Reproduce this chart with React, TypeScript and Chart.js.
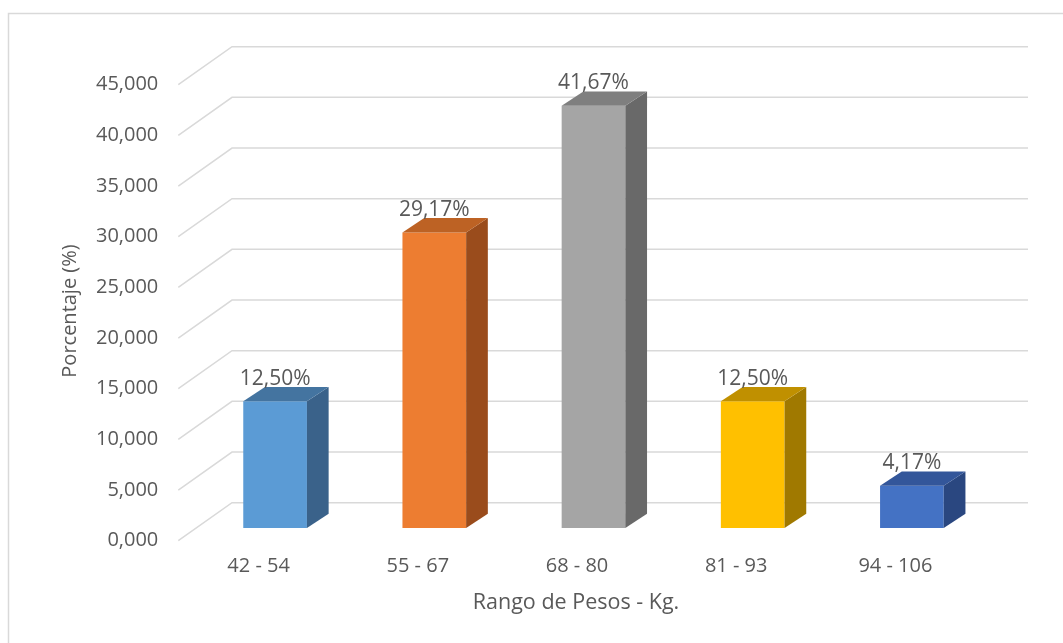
import { useEffect, useRef } from "react";
import { Chart, registerables } from "chart.js";

Chart.register(...registerables);

// Weight ranges and the share of people in each one
const categories = ["42 - 54", "55 - 67", "68 - 80", "81 - 93", "94 - 106"];
const percentages = [12.5, 29.17, 41.67, 12.5, 4.17];
const valueLabels = ["12,50%", "29,17%", "41,67%", "12,50%", "4,17%"];
const yMin = 0;
const yMax = 45;
const yStep = 5;

// Face colours for the extruded columns: front, top, right side
const frontColors = ["#5B9BD5", "#ED7D31", "#A5A5A5", "#FFC000", "#4472C4"];
const topColors = ["#4474A0", "#BD6224", "#7F7F7F", "#C09000", "#33569A"];
const sideColors = ["#3A628A", "#9A4C1C", "#696969", "#A07900", "#2A4780"];

const FONT = "'Open Sans', sans-serif";
const TEXT = "#595959";
const GRID = "#d9d9d9";

// Pseudo-3D geometry (px offsets from the plane the columns stand on)
const BAR_DEPTH = { dx: 21.7, dy: -14.3 };
const BACK_WALL = { dx: 36.5, dy: -25.3 };
const FRONT_EDGE = { dx: -17.2, dy: 12.7 };

const formatTick = (v: number) => v.toFixed(3).replace(".", ",");

const wallPlugin = {
  id: "wall3d",
  beforeDraw(chart: any) {
    const ctx = chart.ctx as CanvasRenderingContext2D;
    ctx.save();
    ctx.strokeStyle = GRID;
    ctx.lineWidth = 1.5;
    ctx.strokeRect(8.5, 13.5, 1200, 800);
    ctx.restore();
  },
  beforeDatasetsDraw(chart: any) {
    const ctx = chart.ctx as CanvasRenderingContext2D;
    const { left, right } = chart.chartArea;
    const y = chart.scales.y;
    ctx.save();
    ctx.strokeStyle = GRID;
    ctx.lineWidth = 1.5;
    y.ticks.forEach((t: any) => {
      const py = y.getPixelForValue(t.value);
      ctx.beginPath();
      ctx.moveTo(left + FRONT_EDGE.dx, py + FRONT_EDGE.dy);
      ctx.lineTo(left + BACK_WALL.dx, py + BACK_WALL.dy);
      ctx.lineTo(right + BACK_WALL.dx, py + BACK_WALL.dy);
      ctx.stroke();
    });
    ctx.restore();
  },
  afterDatasetsDraw(chart: any) {
    const ctx = chart.ctx as CanvasRenderingContext2D;
    const meta = chart.getDatasetMeta(0);
    ctx.save();
    meta.data.forEach((bar: any, i: number) => {
      const { x, y, base, width } = bar.getProps(["x", "y", "base", "width"], true);
      const x1 = x - width / 2;
      const x2 = x + width / 2;
      const { dx, dy } = BAR_DEPTH;
      // right side
      ctx.fillStyle = sideColors[i];
      ctx.beginPath();
      ctx.moveTo(x2, y);
      ctx.lineTo(x2 + dx, y + dy);
      ctx.lineTo(x2 + dx, base + dy);
      ctx.lineTo(x2, base);
      ctx.closePath();
      ctx.fill();
      // top
      ctx.fillStyle = topColors[i];
      ctx.beginPath();
      ctx.moveTo(x1, y);
      ctx.lineTo(x1 + dx, y + dy);
      ctx.lineTo(x2 + dx, y + dy);
      ctx.lineTo(x2, y);
      ctx.closePath();
      ctx.fill();
      // value label
      ctx.fillStyle = TEXT;
      ctx.font = `21px ${FONT}`;
      ctx.textAlign = "center";
      ctx.textBaseline = "middle";
      ctx.fillText(valueLabels[i], x, y - 22.5);
    });
    ctx.restore();
  },
  afterDraw(chart: any) {
    const ctx = chart.ctx as CanvasRenderingContext2D;
    ctx.save();
    ctx.fillStyle = TEXT;
    ctx.textAlign = "center";
    ctx.textBaseline = "middle";
    ctx.font = `21.5px ${FONT}`;
    ctx.fillText("Rango de Pesos - Kg.", 576, 602.5);
    ctx.font = `20px ${FONT}`;
    ctx.translate(70, 311);
    ctx.rotate(-Math.PI / 2);
    ctx.fillText("Porcentaje (%)", 0, 0);
    ctx.restore();
  },
};

export default function App() {
  const canvasRef = useRef<HTMLCanvasElement | null>(null);

  useEffect(() => {
    if (!canvasRef.current) return;
    const chart = new Chart(canvasRef.current, {
      type: "bar",
      data: {
        labels: categories,
        datasets: [
          {
            data: percentages,
            backgroundColor: frontColors,
            borderWidth: 0,
            categoryPercentage: 1,
            barPercentage: 0.4,
          },
        ],
      },
      options: {
        responsive: false,
        animation: false,
        devicePixelRatio: 1,
        layout: { padding: { top: 72, right: 71.5, left: 0, bottom: 0 } },
        plugins: {
          legend: { display: false },
          tooltip: { enabled: false },
        },
        scales: {
          x: {
            grid: { display: false, drawTicks: false },
            border: { display: false },
            ticks: {
              color: TEXT,
              font: { family: FONT, size: 20 },
              padding: 26.7,
              labelOffset: -16.5,
              maxRotation: 0,
            },
            afterFit: (s: any) => {
              s.height = 115;
            },
          },
          y: {
            min: yMin,
            max: yMax,
            grid: { display: false, drawTicks: false },
            border: { display: false },
            ticks: {
              stepSize: yStep,
              color: TEXT,
              font: { family: FONT, size: 20 },
              padding: 37.2,
              labelOffset: 12.7,
              callback: (v: any) => formatTick(Number(v)),
            },
            afterFit: (s: any) => {
              s.width = 195.5;
            },
          },
        },
      },
      plugins: [wallPlugin],
    });
    return () => chart.destroy();
  }, []);

  return (
    <div style={{ position: "fixed", left: 0, top: 0, width: 1063, height: 643, background: "#fff" }}>
      <canvas ref={canvasRef} width={1063} height={643} />
    </div>
  );
}
